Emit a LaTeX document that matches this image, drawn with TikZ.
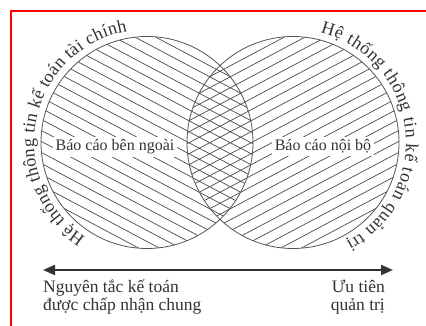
\documentclass[tikz,border=0pt]{standalone}
\usepackage{fontspec}
\setmainfont{Liberation Serif}
\usetikzlibrary{decorations.text,arrows.meta,calc}
\definecolor{txt}{HTML}{333333}
\definecolor{hatch}{HTML}{4A4A4A}
\definecolor{edge}{HTML}{555555}
\definecolor{frame}{HTML}{FF0000}
\newcommand\curvefont{\fontsize{18}{20}\selectfont\color{txt}}
\tikzset{
  hatchline/.style={draw=hatch, line width=0.7pt},
  ring/.style={draw=edge, line width=0.8pt},
  lbl/.style={fill=white, inner sep=2.5pt, text=txt, font=\fontsize{16}{18}\selectfont, anchor=base},
  foot/.style={text=txt, font=\fontsize{17.5}{20}\selectfont, inner sep=0pt},
  axisarrow/.style={draw=txt, line width=2pt, {Triangle[length=12pt,width=10pt]}-{Triangle[length=12pt,width=10pt]}},
}
\begin{document}
\begin{tikzpicture}[x=1pt,y=1pt]
\useasboundingbox (0,0) rectangle (426,326);
\fill[white] (0,0) rectangle (426,326);
% red frame (top and left)
\draw[frame, line width=2pt] (11,0) -- (11,315) -- (426,315);
\coordinate (L) at (147,183.5);
\coordinate (R) at (293,183.5);
% hatching of left circle
\begin{scope}
  \clip (L) circle[radius=106];
  \foreach \k in {-143,-132,...,143}
    \draw[hatchline] ($(L)+(-130,\k+69)$) -- ($(L)+(130,\k-69)$);
\end{scope}
% hatching of right circle
\begin{scope}
  \clip (R) circle[radius=106];
  \foreach \k in {-143,-132,...,143}
    \draw[hatchline] ($(R)+(-130,\k-69)$) -- ($(R)+(130,\k+69)$);
\end{scope}
\draw[ring] (L) circle[radius=106];
\draw[ring] (R) circle[radius=106];
% labels
\node[lbl] (ext) at (115,175) {Báo cáo bên ngoài};
\node[lbl] (int) at (323,175) {Báo cáo nội bộ};
% curved texts
\path[decorate, decoration={text along path, text align={fit to path},
  text={|\curvefont|Hệ thống thông tin kế toán tài chính}}]
  ($(L)+(237:113)$) arc[start angle=237, end angle=100, radius=113];
\path[decorate, decoration={text along path, text align={fit to path},
  text={|\curvefont|Hệ thống thông tin kế toán quản trị}}]
  ($(R)+(76:113)$) arc[start angle=76, end angle=-62, radius=113];
% arrow
\coordinate (aL) at (43,56);
\coordinate (aR) at (393,56);
\draw[axisarrow] (aL) -- (aR);
% footer
\node[foot, anchor=base west] (f1) at (43,33) {Nguyên tắc kế toán};
\node[foot, anchor=base west] (f2) at (43,15) {được chấp nhận chung};
\node[foot, anchor=base east] (f3) at (385,33) {Ưu tiên};
\node[foot, anchor=base east] (f4) at (385,15) {quản trị};
\end{tikzpicture}
\end{document}
